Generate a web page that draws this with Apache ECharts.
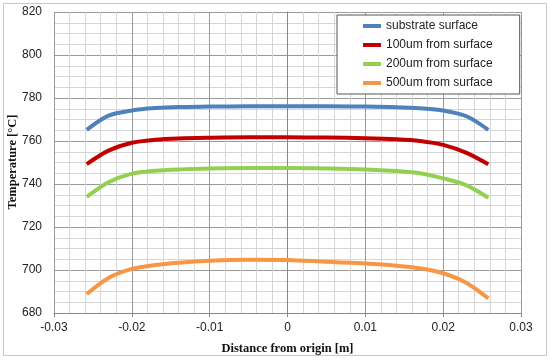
<!DOCTYPE html>
<html><head><meta charset="utf-8">
<script src="https://cdn.jsdelivr.net/npm/echarts@6/dist/echarts.min.js"></script>
<style>html,body{margin:0;padding:0;background:#fff}#c{width:550px;height:362px}</style>
</head><body><div id="c"></div>
<script>
var xs = [-0.0258,-0.023,-0.020,-0.017,-0.014,-0.010,-0.005,0,0.005,0.010,0.014,0.017,0.020,0.023,0.0258];
var seriesNames = ['substrate surface','100um from surface','200um from surface','500um from surface'];
var blue   = [765.2,771.8,774.2,775.3,775.8,776.0,776.2,776.2,776.2,776.0,775.7,775.2,774.2,771.5,765.2];
var red    = [749.2,755.5,759.2,760.6,761.2,761.5,761.7,761.7,761.6,761.3,760.8,760.0,758.2,754.5,749.2];
var green  = [734.0,740.8,744.8,746.2,746.8,747.2,747.4,747.4,747.2,746.8,746.0,745.0,742.6,739.4,733.6];
var orange = [688.8,696.3,700.5,702.3,703.4,704.3,704.8,704.7,703.8,703.0,702.0,700.8,698.5,694.0,686.8];
var colors = ['#4F81BD','#C00000','#92D050','#F79646'];
var allVals = [blue, red, green, orange];
var yTitle = 'Temperature [°C]';
var xTitle = 'Distance from origin [m]';

var chart = echarts.init(document.getElementById('c'), null, {renderer:'canvas'});
var series = allVals.map(function(vals, i){
  return {
    name: seriesNames[i], type:'line', smooth:0.3, showSymbol:false, symbol:'none',
    data: xs.map(function(x, j){ return [x, vals[j]]; }),
    lineStyle:{color:colors[i], width:4}, itemStyle:{color:colors[i]}
  };
});
chart.setOption({
  animation:false,
  backgroundColor:'#fff',
  graphic:[
    {type:'rect', shape:{x:3.5,y:3.5,width:543,height:352}, style:{fill:'none', stroke:'#c8c8c8', lineWidth:1}, z:-10},
    {type:'text', x:13, y:162, rotation:Math.PI/2,
      style:{text:yTitle, align:'center', verticalAlign:'middle', fill:'#111',
        font:'bold 12.5px "Liberation Serif"'}}
  ],
  grid:{left:54, right:29, top:12, bottom:49, containLabel:false, outerBoundsMode:'none'},
  legend:{
    orient:'vertical', left:337, top:15,
    padding:[4,27,4,26], itemGap:5, itemWidth:18, itemHeight:4, icon:'rect',
    backgroundColor:'#fff', borderColor:'#555', borderWidth:1,
    textStyle:{fontFamily:'Liberation Sans', fontSize:12, color:'#222', lineHeight:14},
    data: seriesNames
  },
  xAxis:{
    type:'value', min:-0.03, max:0.03, interval:0.01,
    name:xTitle, nameLocation:'middle', nameGap:29, nameMoveOverlap:false,
    nameTextStyle:{fontFamily:'Liberation Serif', fontWeight:'bold', fontSize:12.5, color:'#111'},
    axisLine:{show:true, onZero:false, lineStyle:{color:'#888'}},
    axisTick:{show:true, length:4, lineStyle:{color:'#888'}},
    minorTick:{show:false, splitNumber:5},
    axisLabel:{fontFamily:'Liberation Sans', fontSize:12, color:'#222', margin:9,
      formatter:function(v){ return Math.abs(v)<1e-9 ? '0' : (+v.toFixed(2)).toString(); }},
    splitLine:{show:true, lineStyle:{color:'#999', width:1}},
    minorSplitLine:{show:true, lineStyle:{color:'#d6d6d6', width:1}}
  },
  yAxis:{
    type:'value', min:680, max:820, interval:20,
    axisLine:{show:true, lineStyle:{color:'#888'}},
    axisTick:{show:false},
    minorTick:{show:false, splitNumber:4},
    axisLabel:{fontFamily:'Liberation Sans', fontSize:12, color:'#222', margin:12},
    splitLine:{show:true, lineStyle:{color:'#999', width:1}},
    minorSplitLine:{show:true, lineStyle:{color:'#d6d6d6', width:1}}
  },
  series: series
});
</script></body></html>
